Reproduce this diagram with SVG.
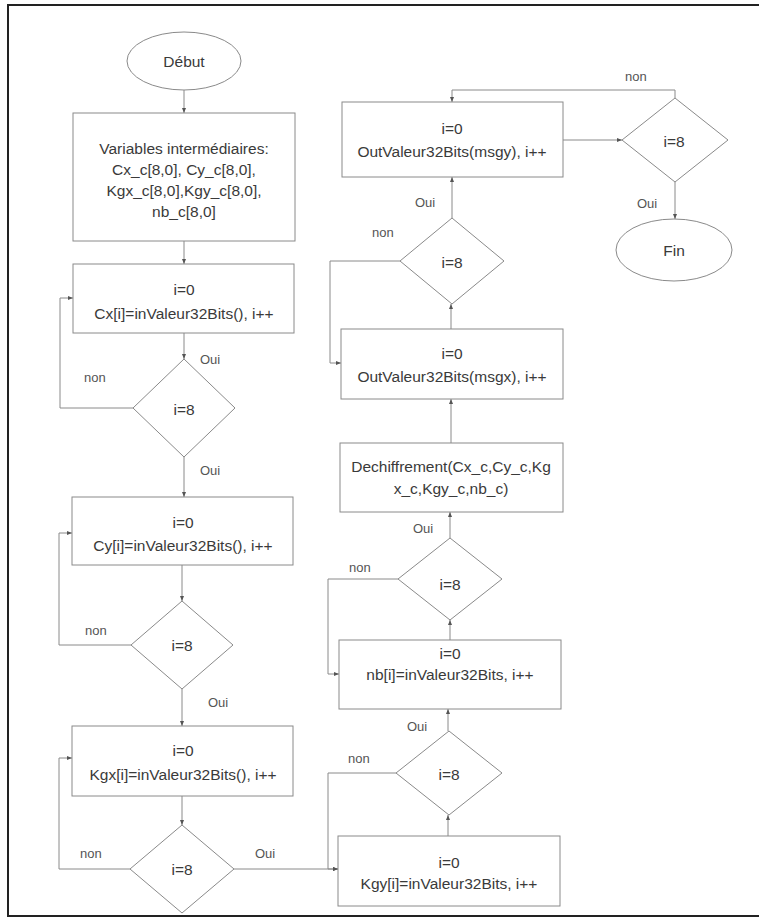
<svg xmlns="http://www.w3.org/2000/svg" width="759" height="918" viewBox="0 0 759 918">
  <style>
    .shape { fill: #ffffff; stroke: #8a8a8a; stroke-width: 1; }
    .conn { fill: none; stroke: #8a8a8a; stroke-width: 1; }
    .t { font-family: "Liberation Sans", Arial, sans-serif; font-size: 15.5px; fill: #3a3a3a; text-anchor: middle; dominant-baseline: central; }
    .lbl { font-family: "Liberation Sans", Arial, sans-serif; font-size: 13px; fill: #555555; dominant-baseline: central; }
  </style>
  <defs>
    <marker id="arr" viewBox="0 0 10 10" refX="10" refY="5" markerWidth="5" markerHeight="5" orient="auto" markerUnits="userSpaceOnUse">
      <path d="M0,1 L10,5 L0,9 z" fill="#555555"/>
    </marker>
  </defs>

  <rect width="759" height="918" fill="#ffffff"/>
  <!-- page frame -->
  <path d="M770,5 H8 V916 H770" fill="none" stroke="#222222" stroke-width="2"/>

  <!-- connectors -->
  <g id="connectors">
    <path class="conn" marker-end="url(#arr)" d="M184,90 V113"/>
    <path class="conn" marker-end="url(#arr)" d="M184,241 V264"/>
    <path class="conn" marker-end="url(#arr)" d="M184,333 V359"/>
    <path class="conn" marker-end="url(#arr)" d="M133,408 H60 V298 H73"/>
    <path class="conn" marker-end="url(#arr)" d="M184,457 V497"/>
    <path class="conn" marker-end="url(#arr)" d="M182,565 V601"/>
    <path class="conn" marker-end="url(#arr)" d="M131,645 H59 V533 H72"/>
    <path class="conn" marker-end="url(#arr)" d="M182,689 V726"/>
    <path class="conn" marker-end="url(#arr)" d="M182,796 V825"/>
    <path class="conn" marker-end="url(#arr)" d="M130,869 H59 V758 H72"/>
    <path class="conn" marker-end="url(#arr)" d="M234,869 H338"/>
    <path class="conn" marker-end="url(#arr)" d="M448,836 V815"/>
    <path class="conn" marker-end="url(#arr)" d="M396,773 H328 V869 H338"/>
    <path class="conn" marker-end="url(#arr)" d="M448,731 V709"/>
    <path class="conn" marker-end="url(#arr)" d="M450,640 V620"/>
    <path class="conn" marker-end="url(#arr)" d="M398,579 H328 V674 H339"/>
    <path class="conn" marker-end="url(#arr)" d="M450,538 V512"/>
    <path class="conn" marker-end="url(#arr)" d="M451,443 V399"/>
    <path class="conn" marker-end="url(#arr)" d="M451,329 V304"/>
    <path class="conn" marker-end="url(#arr)" d="M400,261 H330 V363 H341"/>
    <path class="conn" marker-end="url(#arr)" d="M452,218 V177"/>
    <path class="conn" marker-end="url(#arr)" d="M563,140 H622"/>
    <path class="conn" marker-end="url(#arr)" d="M675,98 V90 H452 V102"/>
    <path class="conn" marker-end="url(#arr)" d="M675,182 V219"/>
  </g>

  <!-- branch labels -->
  <g id="labels">
    <text class="lbl" x="200" y="359">Oui</text>
    <text class="lbl" x="84" y="377">non</text>
    <text class="lbl" x="200" y="470">Oui</text>
    <text class="lbl" x="85" y="630">non</text>
    <text class="lbl" x="208" y="702">Oui</text>
    <text class="lbl" x="80" y="853">non</text>
    <text class="lbl" x="255" y="853">Oui</text>
    <text class="lbl" x="348" y="758">non</text>
    <text class="lbl" x="407" y="726">Oui</text>
    <text class="lbl" x="349" y="567">non</text>
    <text class="lbl" x="413" y="528">Oui</text>
    <text class="lbl" x="372" y="232">non</text>
    <text class="lbl" x="415" y="202">Oui</text>
    <text class="lbl" x="625" y="76">non</text>
    <text class="lbl" x="637" y="203">Oui</text>
  </g>

  <!-- left column -->
  <g id="debut">
    <ellipse class="shape" cx="184" cy="61" rx="57" ry="29"/>
    <text class="t" x="184" y="61">Début</text>
  </g>
  <g id="variables">
    <rect class="shape" x="73" y="113" width="222" height="128"/>
    <text class="t" x="184" y="148">Variables intermédiaires:</text>
    <text class="t" x="184" y="169">Cx_c[8,0], Cy_c[8,0],</text>
    <text class="t" x="184" y="190">Kgx_c[8,0],Kgy_c[8,0],</text>
    <text class="t" x="184" y="211">nb_c[8,0]</text>
  </g>
  <g id="read-cx">
    <rect class="shape" x="73" y="264" width="221" height="69"/>
    <text class="t" x="184" y="289">i=0</text>
    <text class="t" x="184" y="313">Cx[i]=inValeur32Bits(), i++</text>
  </g>
  <g id="test-cx">
    <polygon class="shape" points="184,359 235,408 184,457 133,408"/>
    <text class="t" x="184" y="409">i=8</text>
  </g>
  <g id="read-cy">
    <rect class="shape" x="72" y="497" width="221" height="68"/>
    <text class="t" x="183" y="522">i=0</text>
    <text class="t" x="183" y="545">Cy[i]=inValeur32Bits(), i++</text>
  </g>
  <g id="test-cy">
    <polygon class="shape" points="182,601 233,645 182,689 131,645"/>
    <text class="t" x="182" y="645">i=8</text>
  </g>
  <g id="read-kgx">
    <rect class="shape" x="72" y="726" width="221" height="70"/>
    <text class="t" x="183" y="750">i=0</text>
    <text class="t" x="183" y="774">Kgx[i]=inValeur32Bits(), i++</text>
  </g>
  <g id="test-kgx">
    <polygon class="shape" points="182,825 234,869 182,913 130,869"/>
    <text class="t" x="182" y="869">i=8</text>
  </g>

  <!-- middle column -->
  <g id="read-kgy">
    <rect class="shape" x="338" y="836" width="222" height="70"/>
    <text class="t" x="449" y="862">i=0</text>
    <text class="t" x="449" y="883">Kgy[i]=inValeur32Bits, i++</text>
  </g>
  <g id="test-kgy">
    <polygon class="shape" points="449,731 502,773 449,815 396,773"/>
    <text class="t" x="449" y="774">i=8</text>
  </g>
  <g id="read-nb">
    <rect class="shape" x="339" y="640" width="222" height="69"/>
    <text class="t" x="450" y="653">i=0</text>
    <text class="t" x="450" y="674">nb[i]=inValeur32Bits, i++</text>
  </g>
  <g id="test-nb">
    <polygon class="shape" points="450,538 502,579 450,620 398,579"/>
    <text class="t" x="450" y="584">i=8</text>
  </g>
  <g id="dechiffrement">
    <rect class="shape" x="340" y="443" width="223" height="69"/>
    <text class="t" x="451" y="466">Dechiffrement(Cx_c,Cy_c,Kg</text>
    <text class="t" x="451" y="488">x_c,Kgy_c,nb_c)</text>
  </g>
  <g id="write-msgx">
    <rect class="shape" x="341" y="329" width="222" height="70"/>
    <text class="t" x="452" y="353">i=0</text>
    <text class="t" x="452" y="376">OutValeur32Bits(msgx), i++</text>
  </g>
  <g id="test-msgx">
    <polygon class="shape" points="452,218 504,261 452,304 400,261"/>
    <text class="t" x="452" y="262">i=8</text>
  </g>
  <g id="write-msgy">
    <rect class="shape" x="342" y="102" width="221" height="75"/>
    <text class="t" x="452" y="128">i=0</text>
    <text class="t" x="452" y="151">OutValeur32Bits(msgy), i++</text>
  </g>

  <!-- right column -->
  <g id="test-msgy">
    <polygon class="shape" points="675,98 728,140 675,182 622,140"/>
    <text class="t" x="674" y="141">i=8</text>
  </g>
  <g id="fin">
    <ellipse class="shape" cx="674" cy="250" rx="58" ry="31"/>
    <text class="t" x="674" y="250">Fin</text>
  </g>
</svg>
